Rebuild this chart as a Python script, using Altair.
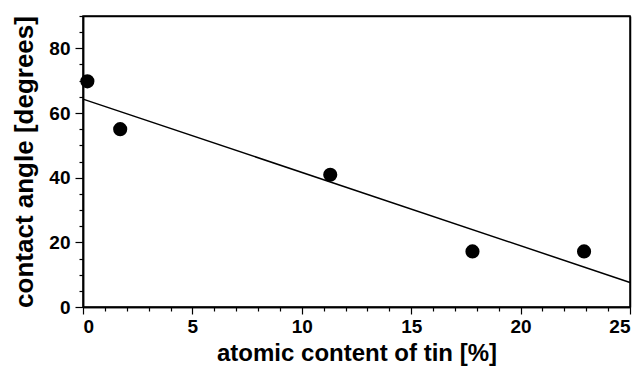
import altair as alt
import pandas as pd

# data
tin = [0.2, 1.7, 11.3, 17.8, 22.9]
angle = [69.8, 55.0, 40.9, 17.2, 17.2]
fit_x = [0, 25]
fit_y = [64.3, 7.6]
x_major = [0, 5, 10, 15, 20, 25]
x_minor = [v for v in range(0, 26) if v % 5 != 0]
y_major = [0, 20, 40, 60, 80]
y_minor = [5, 10, 15, 25, 30, 35, 45, 50, 55, 65, 70, 75, 85, 90]

pts = pd.DataFrame({"x": tin, "y": angle})
fit = pd.DataFrame({"x": fit_x, "y": fit_y})

FONT = "Liberation Sans"
xs = alt.Scale(domain=[0, 25], nice=False, zero=False)
ys = alt.Scale(domain=[0, 90], nice=False, zero=False)

common_axis = dict(domainColor="black", domainWidth=1.5, tickColor="black",
                   tickWidth=1.2, grid=False, labelFont=FONT, labelFontWeight="bold",
                   labelFontSize=19, labelColor="black", titleFont=FONT,
                   titleFontWeight="bold", titleColor="black")

points = alt.Chart(pts).mark_circle(size=200, color="black", opacity=1).encode(
    x=alt.X("x:Q", scale=xs, axis=alt.Axis(values=x_major, tickSize=7, labelPadding=3,
            title="atomic content of tin [%]", titlePadding=5, titleFontSize=24,
            orient="bottom", **common_axis)),
    y=alt.Y("y:Q", scale=ys, axis=alt.Axis(values=y_major, tickSize=8, labelPadding=5,
            title="contact angle [degrees]", titlePadding=11, titleFontSize=26,
            orient="left", **common_axis)),
)

line = alt.Chart(fit).mark_line(color="black", strokeWidth=1.5).encode(
    x=alt.X("x:Q", scale=xs, axis=None), y=alt.Y("y:Q", scale=ys, axis=None))

minor_df = pd.DataFrame({"x": [0], "y": [0]})
minor = alt.Chart(minor_df).mark_point(opacity=0).encode(
    x=alt.X("x:Q", scale=xs, axis=alt.Axis(values=x_minor, tickSize=4, labels=False,
            domainColor="black", domainWidth=1.5, title=None, orient="bottom",
            grid=False, tickColor="black", tickWidth=1.2)),
    y=alt.Y("y:Q", scale=ys, axis=alt.Axis(values=y_minor, tickSize=4, labels=False,
            domainColor="black", domainWidth=1.5, title=None, orient="left",
            grid=False, tickColor="black", tickWidth=1.2)),
)

frame_df = pd.DataFrame({"x": [25], "y": [90]})
frame = alt.Chart(frame_df).mark_point(opacity=0).encode(
    x=alt.X("x:Q", scale=xs, axis=alt.Axis(labels=False, ticks=False,
            domainColor="black", domainWidth=1.5, title=None, orient="top", grid=False)),
    y=alt.Y("y:Q", scale=ys, axis=alt.Axis(labels=False, ticks=False,
            domainColor="black", domainWidth=1.5, title=None, orient="right", grid=False)),
)

chart = alt.layer(points, line, minor, frame).resolve_axis(x="independent", y="independent").properties(
    width=635, height=369,
    background="white",
    autosize=alt.AutoSizeParams(type="fit", contains="padding"),
    padding={"left": 11, "top": 13, "right": 2, "bottom": 4},
).configure_view(stroke="black", strokeWidth=1.5)

chart.save("out.html", embed_options={"renderer": "svg", "actions": False})
